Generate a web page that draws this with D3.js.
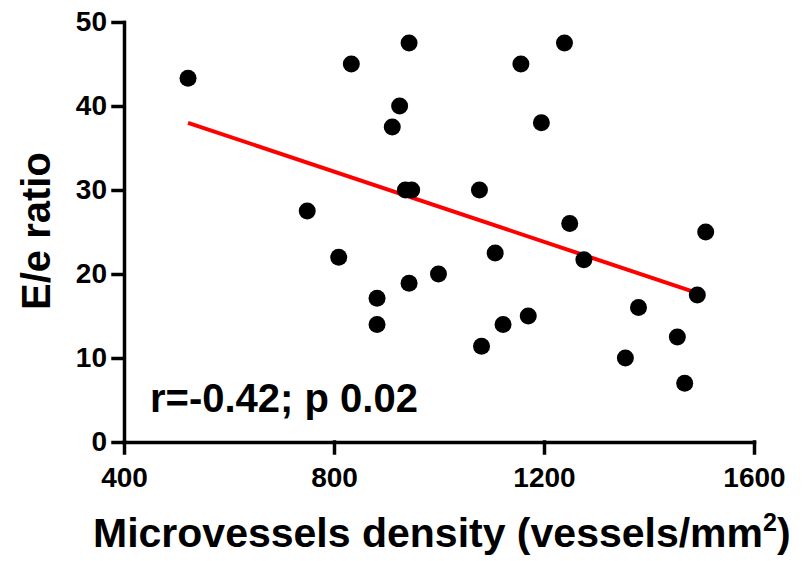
<!DOCTYPE html>
<html>
<head>
<meta charset="utf-8">
<script src="https://cdn.jsdelivr.net/npm/d3@7"></script>
<style>
  body { margin: 0; background: #fff; }
  text { font-family: "Liberation Sans", Arial, sans-serif; font-weight: bold; }
</style>
</head>
<body>
<div id="chart"></div>
<script>
// microvessel density (x) and E/e ratio (y)
var density = [522, 749, 809, 833, 882, 882, 911, 925, 936, 948, 943, 943, 999, 1077, 1081,
               1107, 1122, 1156, 1170, 1195, 1239, 1249, 1276, 1355, 1380, 1454, 1468, 1492, 1508];
var ratio   = [43.3, 27.5, 22.0, 45.0, 17.1, 14.0, 37.5, 40.0, 30.0, 30.0, 47.5, 18.9, 20.0, 30.0, 11.4,
               22.5, 14.0, 45.0, 15.0, 38.0, 47.5, 26.0, 21.7, 10.0, 16.0, 12.5, 7.0, 17.5, 25.0];

// regression line end points
var fitX = [522, 1484];
var fitY = [38.0, 17.9];

var xTicks = [400, 800, 1200, 1600];
var yTicks = [0, 10, 20, 30, 40, 50];

var margin = {top: 22, right: 50, bottom: 119, left: 124},
    width = 804 - margin.left - margin.right,
    height = 561 - margin.top - margin.bottom;

var svg = d3.select("#chart")
  .append("svg")
    .attr("width", 804)
    .attr("height", 561)
  .append("g")
    .attr("transform", "translate(" + margin.left + "," + margin.top + ")");

var x = d3.scaleLinear()
  .domain([400, 1600])
  .range([0, 630]);

var y = d3.scaleLinear()
  .domain([0, 50])
  .range([420, 0]);

// X axis
var xAxis = svg.append("g")
  .attr("transform", "translate(0," + 420 + ")")
  .call(d3.axisBottom(x).tickValues(xTicks).tickFormat(d3.format("d")).tickSize(11).tickSizeOuter(0).tickPadding(14));

// Y axis
var yAxis = svg.append("g")
  .call(d3.axisLeft(y).tickValues(yTicks).tickSize(11).tickSizeOuter(0).tickPadding(6));

svg.selectAll(".domain, .tick line")
  .attr("stroke", "#000")
  .attr("stroke-width", 3.5)
  .attr("stroke-linecap", "square");

svg.selectAll(".tick text")
  .attr("fill", "#000")
  .style("font-size", "28px")
  .style("font-family", "'Liberation Sans', Arial, sans-serif")
  .style("font-weight", "bold");

// X axis label:
var xl = svg.append("text")
  .attr("x", -31)
  .attr("y", 525)
  .style("font-size", "41px");
xl.append("tspan").text("Microvessels density (vessels/mm");
xl.append("tspan").attr("dy", -16).style("font-size", "25px").text("2");
xl.append("tspan").attr("dy", 16).text(")");

// Y axis label:
svg.append("text")
  .attr("text-anchor", "middle")
  .attr("transform", "translate(" + (50 - margin.left) + "," + (231 - margin.top) + ")rotate(-90)")
  .style("font-size", "40px")
  .text("E/e ratio");

// regression line
svg.append("line")
  .attr("x1", x(fitX[0]))
  .attr("y1", y(fitY[0]))
  .attr("x2", x(fitX[1]))
  .attr("y2", y(fitY[1]))
  .attr("stroke", "#ff0000")
  .attr("stroke-width", 4);

// points
svg.selectAll("circle")
  .data(density)
  .enter()
  .append("circle")
    .attr("cx", function(d) { return x(d); })
    .attr("cy", function(d, i) { return y(ratio[i]); })
    .attr("r", 8.5)
    .attr("fill", "#000");

// stats annotation
svg.append("text")
  .attr("x", 26)
  .attr("y", 390)
  .style("font-size", "40px")
  .text("r=-0.42; p 0.02");
</script>
</body>
</html>
